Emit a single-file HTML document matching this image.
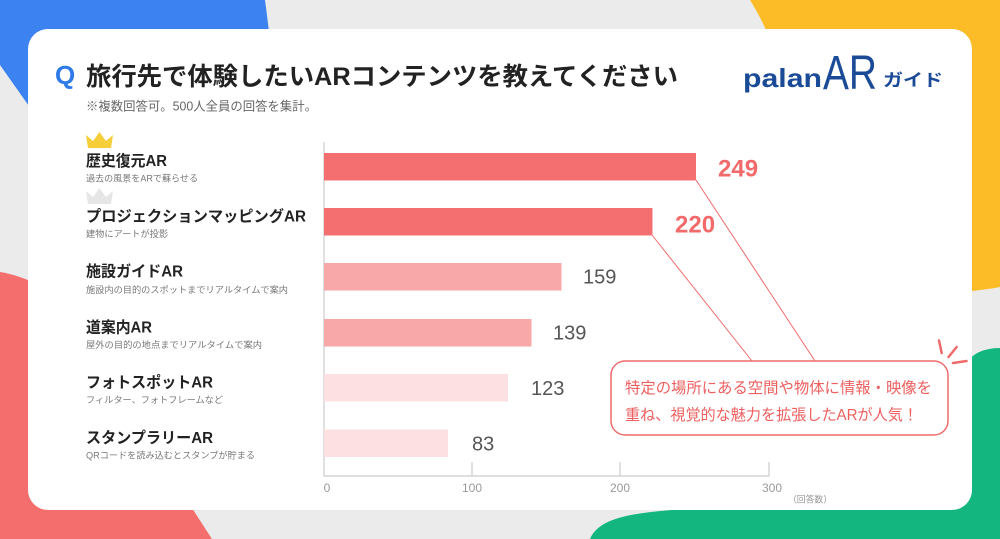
<!DOCTYPE html>
<html>
<head>
<meta charset="utf-8">
<style>
  html,body{margin:0;padding:0;background:#ebebeb;}
  svg{display:block;}
  text{font-family:"Liberation Sans","Noto Sans CJK JP",sans-serif;}
</style>
</head>
<body>
<svg width="1000" height="539" viewBox="0 0 1000 539" xmlns="http://www.w3.org/2000/svg">
  <!-- background -->
  <rect x="0" y="0" width="1000" height="539" fill="#ebebeb"/>
  <!-- blue top-left -->
  <path d="M0,0 L265,0 Q267,15 270,40 L60,150 L0,65 Z" fill="#3c82f0"/>
  <!-- yellow top-right -->
  <path d="M750,0 L1000,0 L1000,287 Q985,290 960,292 L800,120 Q775,40 750,0 Z" fill="#fbbc28"/>
  <!-- red bottom-left -->
  <path d="M0,272 Q15,274 40,285 L190,505 L212,539 L0,539 Z" fill="#f56e6e"/>
  <!-- green bottom-right -->
  <path d="M590,539 C600,515 640,512 700,508 L940,420 L965,365 Q975,348 1000,348 L1000,539 Z" fill="#12b67e"/>

  <!-- card -->
  <rect x="28" y="29" width="944" height="481" rx="20" ry="20" fill="#ffffff"/>

  <!-- title -->
  <text x="55" y="84" font-size="26" font-weight="700" fill="#2d7be8">Q</text>
  <text x="86" y="85" font-size="25" font-weight="700" fill="#222" textLength="592" lengthAdjust="spacingAndGlyphs">旅行先で体験したいARコンテンツを教えてください</text>
  <text x="86" y="110.5" font-size="12.5" fill="#666" textLength="231" lengthAdjust="spacingAndGlyphs">※複数回答可。500人全員の回答を集計。</text>

  <!-- logo -->
  <text x="743" y="87" font-size="26" font-weight="700" fill="#1b4b97" textLength="79" lengthAdjust="spacingAndGlyphs">palan</text>
  <text x="823" y="89" font-size="48" font-weight="400" fill="#1b4b97" textLength="54" lengthAdjust="spacingAndGlyphs">AR</text>
  <text x="883" y="86" font-size="17" font-weight="700" fill="#1b4b97" textLength="60" lengthAdjust="spacingAndGlyphs">ガイド</text>

  <!-- crowns -->
  <polygon points="86,135 93,141 99.5,132 106,141 113,135 111,148 88,148" fill="#f5ce3a"/>
  <polygon points="86,191 93,197 99.5,188 106,197 113,191 111,204 88,204" fill="#e6e6e6"/>

  <!-- labels -->
  <g font-weight="700" font-size="15.5" fill="#222">
    <text x="86" y="166" textLength="81" lengthAdjust="spacingAndGlyphs">歴史復元AR</text>
    <text x="86" y="221.5" textLength="220" lengthAdjust="spacingAndGlyphs">プロジェクションマッピングAR</text>
    <text x="86" y="276.5" textLength="97" lengthAdjust="spacingAndGlyphs">施設ガイドAR</text>
    <text x="86" y="332.5" textLength="66" lengthAdjust="spacingAndGlyphs">道案内AR</text>
    <text x="86" y="387.5" textLength="127" lengthAdjust="spacingAndGlyphs">フォトスポットAR</text>
    <text x="86" y="443" textLength="127" lengthAdjust="spacingAndGlyphs">スタンプラリーAR</text>
  </g>
  <g font-size="9" fill="#777">
    <text x="86" y="181.5" textLength="112" lengthAdjust="spacingAndGlyphs">過去の風景をARで蘇らせる</text>
    <text x="86" y="237" textLength="82" lengthAdjust="spacingAndGlyphs">建物にアートが投影</text>
    <text x="86" y="293" textLength="202" lengthAdjust="spacingAndGlyphs">施設内の目的のスポットまでリアルタイムで案内</text>
    <text x="86" y="348" textLength="176" lengthAdjust="spacingAndGlyphs">屋外の目的の地点までリアルタイムで案内</text>
    <text x="86" y="403" textLength="137" lengthAdjust="spacingAndGlyphs">フィルター、フォトフレームなど</text>
    <text x="86" y="458.5" textLength="169" lengthAdjust="spacingAndGlyphs">QRコードを読み込むとスタンプが貯まる</text>
  </g>

  <!-- axes -->
  <line x1="324" y1="142" x2="324" y2="476.5" stroke="#cccccc" stroke-width="1.2"/>
  <line x1="324" y1="476" x2="769.5" y2="476" stroke="#cccccc" stroke-width="1.2"/>
  <line x1="472" y1="462" x2="472" y2="476" stroke="#cccccc" stroke-width="1.2"/>
  <line x1="620" y1="462" x2="620" y2="476" stroke="#cccccc" stroke-width="1.2"/>
  <line x1="769" y1="462" x2="769" y2="476" stroke="#cccccc" stroke-width="1.2"/>
  <g font-size="12" fill="#9a9a9a" text-anchor="middle">
    <text x="327" y="492">0</text>
    <text x="472" y="492">100</text>
    <text x="620" y="492">200</text>
    <text x="772" y="492">300</text>
  </g>
  <text x="788" y="502.5" font-size="9" fill="#999" textLength="44" lengthAdjust="spacingAndGlyphs">（回答数）</text>

  <!-- bars -->
  <rect x="324" y="153" width="372" height="27.5" fill="#f47070"/>
  <rect x="324" y="208" width="328.5" height="27.5" fill="#f47070"/>
  <rect x="324" y="263" width="237.5" height="27.5" fill="#f8a8a9"/>
  <rect x="324" y="319" width="207.5" height="27.5" fill="#f8a8a9"/>
  <rect x="324" y="374" width="184" height="27.5" fill="#fde1e2"/>
  <rect x="324" y="429.5" width="124" height="27.5" fill="#fde1e2"/>

  <!-- values -->
  <g font-weight="700" font-size="24" fill="#f26a6a">
    <text x="718" y="176.5">249</text>
    <text x="675" y="232.5">220</text>
  </g>
  <g font-size="20" fill="#555">
    <text x="583" y="283.7">159</text>
    <text x="553" y="339.7">139</text>
    <text x="531" y="395">123</text>
    <text x="472" y="450.5">83</text>
  </g>

  <!-- callout lines -->
  <line x1="696" y1="180" x2="815" y2="361" stroke="#f06a6a" stroke-width="1"/>
  <line x1="652" y1="235" x2="752" y2="361" stroke="#f06a6a" stroke-width="1"/>

  <!-- callout box -->
  <rect x="611" y="361" width="337" height="74" rx="14" ry="14" fill="#ffffff" stroke="#ee6c6c" stroke-width="1.5"/>
  <g font-size="15.5" fill="#ee5f5f">
    <text x="625" y="393" textLength="307" lengthAdjust="spacingAndGlyphs">特定の場所にある空間や物体に情報・映像を</text>
    <text x="625" y="420" textLength="293" lengthAdjust="spacingAndGlyphs">重ね、視覚的な魅力を拡張したARが人気！</text>
  </g>

  <!-- sparkle -->
  <g stroke="#f06a6a" stroke-width="2.5" stroke-linecap="round">
    <line x1="939" y1="340.5" x2="941.7" y2="353"/>
    <line x1="956.7" y1="347" x2="948.5" y2="357"/>
    <line x1="953" y1="363" x2="966.5" y2="361"/>
  </g>
</svg>
</body>
</html>
